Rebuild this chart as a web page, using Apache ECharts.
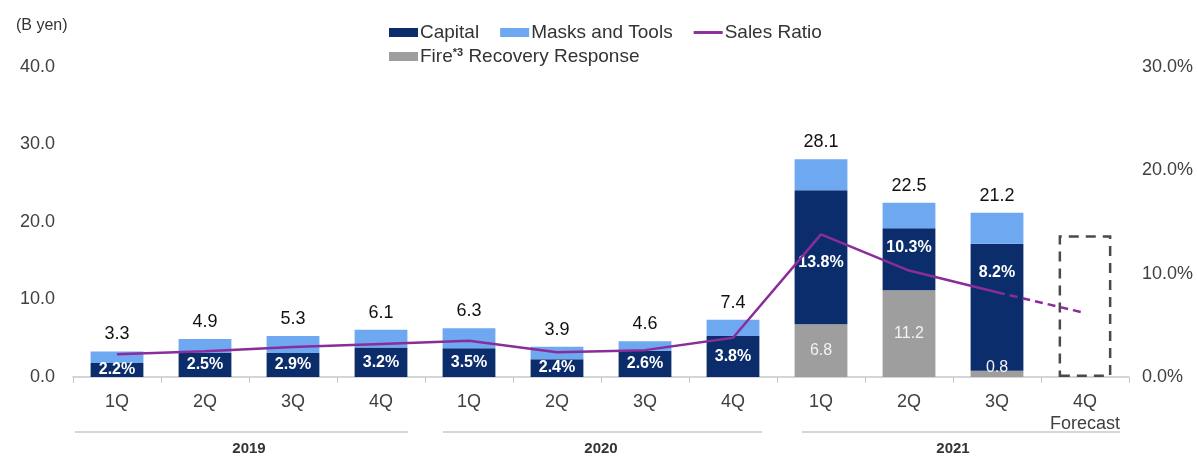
<!DOCTYPE html>
<html>
<head>
<meta charset="utf-8">
<script src="https://cdn.jsdelivr.net/npm/echarts@6/dist/echarts.min.js"></script>
<style>
  html, body { margin: 0; padding: 0; background: #fff; }
  #chart { width: 1198px; height: 456px; }
</style>
</head>
<body>
<div id="chart"></div>
<script>
// Quarterly spending (B yen) and ratio to sales (%)
const quarters = ['1Q', '2Q', '3Q', '4Q', '1Q', '2Q', '3Q', '4Q', '1Q', '2Q', '3Q', '4Q\nForecast'];
const years = ['2019', '2020', '2021'];
const capital = [1.8, 3.1, 3.1, 3.8, 3.7, 2.3, 3.4, 5.3, 17.3, 8.0, 16.4, null];
const masksAndTools = [1.5, 1.8, 2.2, 2.3, 2.6, 1.6, 1.2, 2.1, 4.0, 3.3, 4.0, null];
const fireRecovery = [null, null, null, null, null, null, null, null, 6.8, 11.2, 0.8, null];
const forecastTotal = [null, null, null, null, null, null, null, null, null, null, null, 18.3];
const salesRatio = [2.2, 2.5, 2.9, 3.2, 3.5, 2.4, 2.6, 3.8, 13.8, 10.3, 8.2, null];
const salesRatioForecast = [null, null, null, null, null, null, null, null, null, null, 8.2, 6.2];
const leftTicks = { min: 0, max: 40, interval: 10 };
const rightTicks = { min: 0, max: 30, interval: 10 };

const FONT = '"Liberation Sans", Arial, sans-serif';
const NAVY = '#0c2d6b';
const LIGHT = '#6ea8f0';
const GRAY = '#9e9e9e';
const PURPLE = '#8a2c99';

const chart = echarts.init(document.getElementById('chart'), null, { renderer: 'canvas' });

const stackTotal = i => (fireRecovery[i] || 0) + (capital[i] || 0) + (masksAndTools[i] || 0);

// ratio labels sit higher in the tall 2021 bars
const capitalData = capital.map((v, i) => {
  if (i === 9) return { value: v, label: { position: 'insideTop', distance: 11 } };
  if (i === 10) return { value: v, label: { position: 'insideTop', distance: 21 } };
  if (i === 8) return { value: v, label: { offset: [0, 5] } };
  return v;
});
const fireData = fireRecovery.map((v, i) => (i === 10 ? { value: v, label: { offset: [0, -6] } } : v));

const option = {
  animation: false,
  textStyle: { fontFamily: FONT },
  title: {
    text: '(B yen)',
    left: 11, top: 13,
    textStyle: { fontFamily: FONT, fontSize: 16, fontWeight: 'normal', color: '#333' }
  },
  legend: [
    {
      data: [
        { name: 'Capital', icon: 'rect' },
        { name: 'Masks and Tools', icon: 'rect' },
        { name: 'Sales Ratio', icon: 'path://M0,0 L30,0 L30,3 L0,3 Z' }
      ],
      left: 384, top: 18,
      itemWidth: 29, itemHeight: 9, itemGap: 21,
      selectedMode: false,
      textStyle: { fontFamily: FONT, fontSize: 19, color: '#333', padding: [0, 0, 0, -3] }
    },
    {
      data: [{ name: 'Fire Recovery Response', icon: 'rect' }],
      left: 384, top: 42,
      itemWidth: 29, itemHeight: 9,
      selectedMode: false,
      formatter: () => '{t|Fire}{s|*3}{t| Recovery Response}',
      textStyle: {
        fontFamily: FONT, fontSize: 19, color: '#333', padding: [0, 0, 0, -3],
        rich: {
          t: { fontFamily: FONT, fontSize: 19, color: '#333' },
          s: { fontFamily: FONT, fontSize: 11, color: '#333', fontWeight: 'bold', verticalAlign: 'top', padding: [0, 0, 8, 0] }
        }
      }
    }
  ],
  grid: { left: 73, right: 69, top: 67, bottom: 79, containLabel: false },
  xAxis: [
    {
      type: 'category',
      data: quarters,
      axisLine: { lineStyle: { color: '#c8c8c8', width: 1.5 } },
      axisTick: { show: true, length: 6, lineStyle: { color: '#c8c8c8' } },
      axisLabel: { interval: 0, fontFamily: FONT, fontSize: 18, color: '#404040', margin: 14, lineHeight: 22 }
    },
    {
      type: 'category',
      data: years,
      position: 'bottom',
      axisLine: { show: false },
      axisTick: { show: false },
      axisLabel: { interval: 0, fontFamily: FONT, fontSize: 15, fontWeight: 'bold', color: '#333', margin: 64 }
    }
  ],
  yAxis: [
    {
      type: 'value', ...leftTicks,
      splitLine: { show: false },
      axisLine: { show: false }, axisTick: { show: false },
      axisLabel: { fontFamily: FONT, fontSize: 18, color: '#404040', margin: 18, formatter: v => v.toFixed(1) }
    },
    {
      type: 'value', ...rightTicks,
      position: 'right',
      splitLine: { show: false },
      axisLine: { show: false }, axisTick: { show: false },
      axisLabel: { fontFamily: FONT, fontSize: 18, color: '#404040', margin: 13, formatter: v => v.toFixed(1) + '%' }
    }
  ],
  series: [
    {
      name: 'Fire Recovery Response', type: 'bar', stack: 'q', barWidth: '60%',
      data: fireData,
      itemStyle: { color: GRAY },
      label: {
        show: true, position: 'inside', color: '#f2f2f2', fontFamily: FONT, fontSize: 16,
        formatter: p => (p.value == null ? '' : Number(p.value).toFixed(1))
      }
    },
    {
      name: 'Capital', type: 'bar', stack: 'q', barWidth: '60%',
      data: capitalData,
      itemStyle: { color: NAVY },
      label: {
        show: true, position: 'inside', color: '#fff', fontFamily: FONT, fontSize: 16, fontWeight: 'bold',
        formatter: p => (salesRatio[p.dataIndex] == null ? '' : salesRatio[p.dataIndex].toFixed(1) + '%')
      }
    },
    {
      name: 'Masks and Tools', type: 'bar', stack: 'q', barWidth: '60%',
      data: masksAndTools,
      itemStyle: { color: LIGHT },
      label: {
        show: true, position: 'top', distance: 8, color: '#111', fontFamily: FONT, fontSize: 18,
        formatter: p => stackTotal(p.dataIndex).toFixed(1)
      }
    },
    {
      name: 'Forecast', type: 'bar', stack: 'q', barWidth: '60%',
      data: forecastTotal,
      itemStyle: { color: 'rgba(0,0,0,0)', borderColor: '#4a4a4a', borderWidth: 2.5, borderType: [10, 7] }
    },
    {
      name: 'Sales Ratio', type: 'line', yAxisIndex: 1, z: 5,
      data: salesRatio,
      symbol: 'none',
      lineStyle: { color: PURPLE, width: 2.5 },
      itemStyle: { color: PURPLE }
    },
    {
      name: 'Sales Ratio Forecast', type: 'line', yAxisIndex: 1, z: 5,
      data: salesRatioForecast,
      symbol: 'none',
      lineStyle: { color: PURPLE, width: 2.5, type: [8, 5] },
      itemStyle: { color: PURPLE }
    }
  ]
};

chart.setOption(option);

// year group rules above the year labels, placed from the category axis
const cx = i => chart.convertToPixel({ xAxisIndex: 0 }, i);
const catW = cx(1) - cx(0);
const baseY = chart.convertToPixel({ yAxisIndex: 0 }, 0);
const insets = [[2, 17], [18, 15], [25, 9]];
const rules = years.map((y, g) => {
  const x1 = cx(g * 4) - catW / 2 + insets[g][0];
  const x2 = cx(g * 4 + 3) + catW / 2 - insets[g][1];
  return {
    type: 'line',
    shape: { x1: x1, y1: baseY + 55, x2: x2, y2: baseY + 55 },
    style: { stroke: '#c8c8c8', lineWidth: 1.5 }
  };
});
chart.setOption({ graphic: rules });
</script>
</body>
</html>
